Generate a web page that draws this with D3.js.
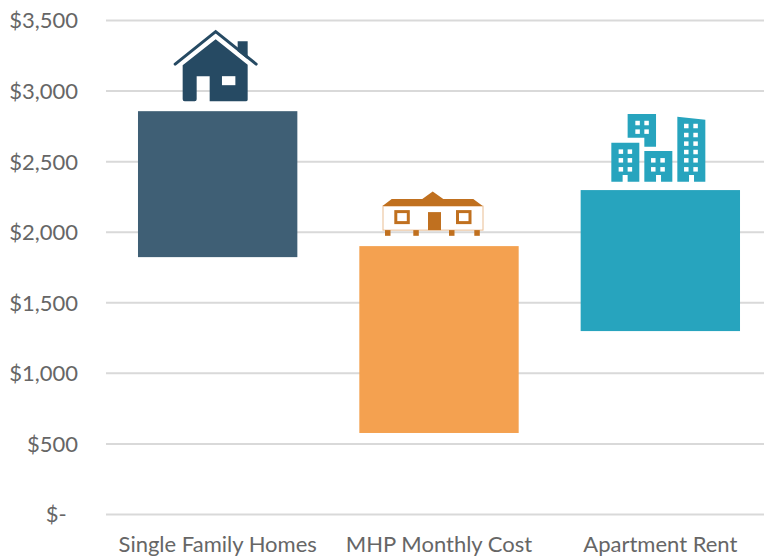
<!DOCTYPE html>
<html>
<head>
<meta charset="utf-8">
<script src="https://cdn.jsdelivr.net/npm/d3@7"></script>
<style>
body { margin: 0; background: #fff; }
text { font-family: Lato, sans-serif; }
.axis text { fill: #666; font-size: 22px; }
.axis .domain { display: none; }
</style>
</head>
<body>
<script>
let categories = ["Single Family Homes", "MHP Monthly Cost", "Apartment Rent"];
let lowValues = [1820, 574, 1296];
let highValues = [2854, 1898, 2295];
let yTicks = [0, 500, 1000, 1500, 2000, 2500, 3000, 3500];
let barColors = ["#3f5f75", "#f4a150", "#27a4be"];
let iconColors = ["#264a63", "#c0701f", "#27a4be"];

let w = 764;
let h = 560;

let xScale = d3.scaleBand()
  .domain(categories)
  .range([107, 771])
  .paddingInner(0.28)
  .paddingOuter(0.14);

let yScale = d3.scaleLinear()
  .domain([0, 3500])
  .range([514, 20]);

let moneyFmt = d3.format("$,");

let yAxis = d3.axisLeft(yScale)
  .tickValues(yTicks)
  .tickSize(-664)
  .tickPadding(28)
  .tickFormat(d => d === 0 ? "$-\u00a0\u00a0" : moneyFmt(d));

let xAxis = d3.axisBottom(xScale).tickSize(0).tickPadding(22);

let svg = d3.select("body").append("svg")
  .attr("width", w)
  .attr("height", h)
  .style("display", "block");

let yG = svg.append("g")
  .attr("class", "axis")
  .attr("transform", "translate(106,0)")
  .call(yAxis);
yG.selectAll(".tick line").attr("stroke", "#d9d9d9").attr("stroke-width", 2);
yG.selectAll(".tick text").attr("dy", "0.36em");

svg.append("g")
  .attr("class", "axis")
  .attr("transform", "translate(0,514)")
  .call(xAxis);

// floating bars
svg.selectAll(".bar")
  .data(categories)
  .enter().append("rect")
  .attr("class", "bar")
  .attr("x", d => xScale(d))
  .attr("width", xScale.bandwidth())
  .attr("y", (d, i) => yScale(highValues[i]))
  .attr("height", (d, i) => yScale(lowValues[i]) - yScale(highValues[i]))
  .attr("fill", (d, i) => barColors[i]);

// icons sit on top of each bar, origin = bar top centre
let icons = svg.selectAll(".icon")
  .data(categories)
  .enter().append("g")
  .attr("class", "icon")
  .attr("transform", (d, i) => "translate(" + (xScale(d) + xScale.bandwidth() / 2 - 1) + "," + yScale(highValues[i]) + ")");

function winGrid(g, xs, ys, size, color) {
  xs.forEach(x => ys.forEach(y => {
    g.append("rect").attr("x", x).attr("y", y).attr("width", size).attr("height", size).attr("fill", color);
  }));
}

// house
let house = icons.filter((d, i) => i === 0);
house.append("path").attr("d", "M21,-70H31V-52L21,-60Z").attr("fill", iconColors[0]);
house.append("path")
  .attr("d", "M-41.5,-47L-1,-79.5L39.5,-47")
  .attr("fill", "none")
  .attr("stroke", iconColors[0])
  .attr("stroke-width", 3)
  .attr("stroke-linecap", "round");
house.append("path")
  .attr("d", "M-1,-72L31,-46.5V-11.5Q31,-10 29,-10H-7V-35H-20V-12Q-20,-10 -22,-10H-32Q-34,-10 -34,-12V-46Z")
  .attr("fill", iconColors[0]);
house.append("rect").attr("x", 5.3).attr("y", -35).attr("width", 13.4).attr("height", 9).attr("fill", "#fff");

// mobile home
let mobile = icons.filter((d, i) => i === 1);
mobile.append("rect").attr("x", -55).attr("y", -40).attr("width", 100).attr("height", 24)
  .attr("fill", "#fff").attr("stroke", "#e9bd92").attr("stroke-width", 1);
mobile.append("path")
  .attr("d", "M-55.5,-40L-46.3,-47H-15.7L-5.3,-54.5L5.3,-47H35.3L44.7,-40Z")
  .attr("fill", iconColors[1]);
[[-42.2, -34.5], [19.5, -34.5]].forEach(p => {
  mobile.append("rect").attr("x", p[0]).attr("y", p[1]).attr("width", 12.5).attr("height", 11)
    .attr("fill", "#fff").attr("stroke", iconColors[1]).attr("stroke-width", 3);
});
mobile.append("rect").attr("x", -10).attr("y", -34).attr("width", 13).attr("height", 18).attr("fill", iconColors[1]);
[-53, -24.7, 11, 36.3].forEach(x => {
  mobile.append("rect").attr("x", x).attr("y", -16).attr("width", 5.5).attr("height", 5.7).attr("fill", iconColors[1]);
});

// apartments
let apts = icons.filter((d, i) => i === 2);
let c = iconColors[2];
apts.append("path").attr("d", "M-31.7,-76H-3.3V-43.3H-15V-52.3H-31.7Z").attr("fill", c);
winGrid(apts, [-24, -15], [-69.3, -60.7], 4.5, "#fff");
apts.append("path").attr("d", "M-48,-47.3H-20V-8.3H-31.7V-15H-36.7V-8.3H-48Z").attr("fill", c);
winGrid(apts, [-40.7, -31.7], [-40.7, -32, -23], 4.5, "#fff");
apts.append("path").attr("d", "M-15,-39H13V-8.3H1.7V-15H-3.3V-8.3H-15Z").attr("fill", c);
winGrid(apts, [-8.3, 1], [-32, -23], 4.5, "#fff");
apts.append("path").attr("d", "M18,-73.3L46,-70.3V-8.3H34.7V-15H29.7V-8.3H18Z").attr("fill", c);
winGrid(apts, [24.7, 34], [-66.3, -57.3, -48.7, -40.3, -32, -23], 4.5, "#fff");
</script>
</body>
</html>
